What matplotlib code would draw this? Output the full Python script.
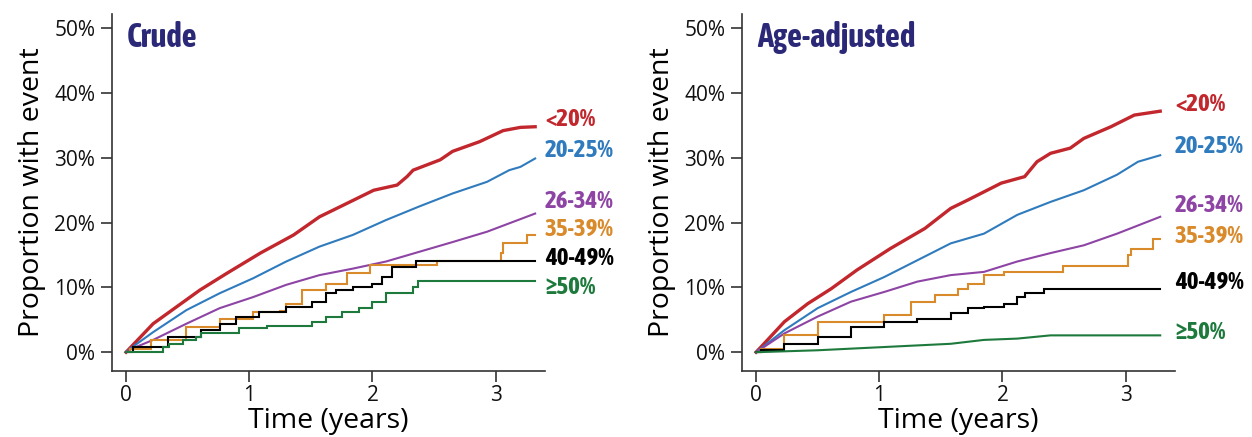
import matplotlib
matplotlib.use("Agg")
import matplotlib.pyplot as plt
from matplotlib.ticker import FuncFormatter
from matplotlib import font_manager

_fonts = font_manager.fontManager.ttflist


def pick(prefs, weight):
    for p in prefs:
        if any(f.name == p and f.weight in (weight, str(weight)) for f in _fonts):
            return [p, 'DejaVu Sans']
    return ['DejaVu Sans']


REG = pick(['Open Sans', 'Liberation Sans'], 400)
BOLDC = pick(['Asap Condensed', 'PT Sans Narrow', 'Fira Sans Condensed',
              'Barlow Semi Condensed', 'Liberation Sans'], 700)

groups = ['<20%', '20-25%', '26-34%', '35-39%', '40-49%', '\u226550%']
colors = ['#c1272d', '#2f7bbd', '#8e44a4', '#d98a2b', '#000000', '#1d7a3c']

# ---- Crude panel ----
crude_t = [
    [0, 0.03, 0.22, 0.41, 0.60, 0.82, 1.09, 1.36, 1.57, 1.71, 2.01, 2.20, 2.28, 2.33,
     2.55, 2.65, 2.87, 3.06, 3.20, 3.32],
    [0, 0.03, 0.22, 0.49, 0.76, 1.03, 1.30, 1.57, 1.84, 2.11, 2.38, 2.65, 2.93, 3.11,
     3.20, 3.32],
    [0, 0.03, 0.22, 0.49, 0.76, 1.03, 1.30, 1.57, 1.84, 2.11, 2.38, 2.65, 2.93, 3.32],
    [0, 0.03, 0.2, 0.49, 0.76, 1.03, 1.25, 1.30, 1.43, 1.62, 1.79, 1.98, 2.52, 3.04,
     3.06, 3.25, 3.32],
    [0, 0.06, 0.34, 0.61, 0.76, 0.89, 1.08, 1.30, 1.51, 1.62, 1.70, 1.84, 2.00, 2.08,
     2.16, 2.35, 3.32],
    [0, 0.30, 0.35, 0.46, 0.57, 0.61, 0.92, 1.14, 1.51, 1.62, 1.75, 1.89, 2.00, 2.11,
     2.33, 2.37, 3.32],
]
crude_v = [
    [0, 0.6, 4.4, 7.0, 9.6, 12.2, 15.3, 18.1, 20.9, 22.2, 25.0, 25.8, 27.1, 28.1,
     29.7, 31.0, 32.5, 34.2, 34.7, 34.8],
    [0, 0.5, 3.1, 6.5, 9.1, 11.4, 14.0, 16.3, 18.1, 20.4, 22.5, 24.5, 26.3, 28.1,
     28.6, 29.9],
    [0, 0.4, 1.9, 4.4, 6.8, 8.5, 10.4, 11.9, 12.9, 14.0, 15.5, 17.0, 18.6, 21.4],
    [0, 0.5, 1.9, 3.9, 5.2, 6.2, 6.4, 7.5, 9.6, 10.6, 12.2, 13.4, 14.1, 15.3,
     16.8, 18.1, 18.1],
    [0, 0.8, 2.4, 3.4, 4.4, 5.5, 6.2, 7.0, 7.8, 9.1, 9.6, 10.1, 10.6, 11.6,
     13.2, 14.1, 14.1],
    [0, 0.8, 1.3, 1.9, 2.4, 3.0, 3.7, 4.0, 4.7, 5.5, 6.2, 6.8, 7.8, 9.2,
     10.1, 11.0, 11.0],
]
crude_steps = [False, False, False, True, True, True]
crude_label_y = [35.9, 31.2, 23.2, 18.9, 14.5, 10.0]

# ---- Age-adjusted panel ----
adj_t = [
    [0, 0.04, 0.23, 0.42, 0.61, 0.82, 1.09, 1.37, 1.58, 1.72, 1.99, 2.18, 2.28, 2.39,
     2.55, 2.66, 2.88, 3.07, 3.28],
    [0, 0.04, 0.23, 0.50, 0.77, 1.04, 1.31, 1.58, 1.85, 2.12, 2.39, 2.66, 2.93, 3.10,
     3.28],
    [0, 0.04, 0.23, 0.50, 0.77, 1.04, 1.31, 1.58, 1.85, 2.12, 2.39, 2.66, 2.93, 3.28],
    [0, 0.04, 0.23, 0.50, 1.04, 1.26, 1.45, 1.64, 1.72, 1.85, 2.01, 2.49, 3.02, 3.04,
     3.22, 3.28],
    [0, 0.04, 0.23, 0.50, 0.77, 1.04, 1.31, 1.58, 1.72, 1.85, 2.01, 2.12, 2.18, 2.34,
     3.28],
    [0, 0.5, 1.04, 1.58, 1.85, 2.12, 2.39, 3.28],
]
adj_v = [
    [0, 0.8, 4.7, 7.5, 9.8, 12.7, 16.0, 19.1, 22.2, 23.5, 26.1, 27.1, 29.4, 30.7,
     31.5, 33.0, 34.8, 36.6, 37.2],
    [0, 0.6, 3.4, 6.8, 9.3, 11.6, 14.2, 16.8, 18.3, 21.2, 23.2, 25.0, 27.4, 29.4,
     30.4],
    [0, 0.5, 2.9, 5.5, 7.8, 9.3, 10.9, 11.9, 12.4, 14.0, 15.3, 16.5, 18.3, 20.9],
    [0, 0.5, 2.7, 4.7, 5.7, 7.8, 8.8, 9.8, 10.6, 11.9, 12.4, 13.3, 15.0, 16.0,
     17.5, 17.5],
    [0, 0.4, 1.3, 2.4, 3.9, 4.7, 5.2, 6.0, 6.8, 7.0, 7.5, 8.5, 9.1, 9.7, 9.7],
    [0, 0.3, 0.8, 1.3, 1.9, 2.1, 2.6, 2.6],
]
adj_steps = [False, False, False, True, True, False]
adj_label_y = [38.2, 31.7, 22.7, 17.8, 10.7, 3.1]

panels = [
    ('Crude', crude_t, crude_v, crude_steps, crude_label_y),
    ('Age-adjusted', adj_t, adj_v, adj_steps, adj_label_y),
]

fig = plt.figure(figsize=(12.52, 4.37), dpi=100)
lefts = [112 / 1252, 742 / 1252]
for (title, ts, vs, steps, label_y), left in zip(panels, lefts):
    ax = fig.add_axes([left, 66 / 437, 433 / 1252, 357 / 437])
    for i, g in enumerate(groups):
        lw = 2.4 if i == 0 else 1.5
        kw = dict(drawstyle='steps-post') if steps[i] else {}
        ax.plot(ts[i], vs[i], color=colors[i], lw=lw, solid_joinstyle='miter', **kw)
        ax.annotate(g, xy=(1.0, label_y[i]), xycoords=('axes fraction', 'data'),
                    ha='left', va='center', color=colors[i], fontsize=18,
                    fontweight='bold', family=BOLDC)
    ax.set_xlim(-0.114, 3.40)
    ax.set_ylim(-2.9, 52.2)
    ax.set_xticks([0, 1, 2, 3])
    ax.set_yticks([0, 10, 20, 30, 40, 50])
    ax.yaxis.set_major_formatter(FuncFormatter(lambda v, p: f'{v:.0f}%'))
    for s in ['top', 'right']:
        ax.spines[s].set_visible(False)
    for s in ['left', 'bottom']:
        ax.spines[s].set_color('#333333')
        ax.spines[s].set_linewidth(1.2)
    ax.tick_params(direction='out', length=8, width=1.2, color='#333333',
                   labelsize=15, labelcolor='#111111')
    ax.tick_params(axis='x', pad=2)
    ax.tick_params(axis='y', pad=4)
    for lab in ax.get_xticklabels() + ax.get_yticklabels():
        lab.set_family(REG)
    ax.set_xlabel('Time (years)', fontsize=20.5, family=REG, labelpad=1)
    ax.set_ylabel('Proportion with event', fontsize=20.5, family=REG, labelpad=6)
    ax.text(0.035, 0.933, title, transform=ax.transAxes, ha='left', va='center',
            fontsize=23.5, fontweight='bold', color='#2b2878', family=BOLDC)

fig.savefig('out.png', dpi=100)
